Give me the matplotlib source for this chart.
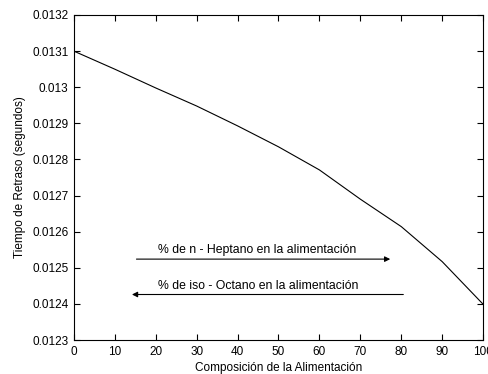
import matplotlib.pyplot as plt

# Composición de la alimentación vs tiempo de retraso
composicion = [0, 10, 20, 30, 40, 50, 60, 70, 80, 90, 100]
retraso = [0.01310, 0.013050, 0.012998, 0.012948, 0.012893, 0.012835,
           0.012771, 0.012690, 0.012614, 0.012517, 0.012399]

y_ticks = [0.0123, 0.0124, 0.0125, 0.0126, 0.0127, 0.0128, 0.0129, 0.013, 0.0131, 0.0132]
y_labels = ['0.0123', '0.0124', '0.0125', '0.0126', '0.0127', '0.0128',
            '0.0129', '0.013', '0.0131', '0.0132']
x_ticks = [0, 10, 20, 30, 40, 50, 60, 70, 80, 90, 100]

plt.rcParams['font.family'] = ['Liberation Sans', 'DejaVu Sans']
plt.rcParams['font.size'] = 8.5

fig = plt.figure(figsize=(4.89, 3.74), dpi=100)
ax = fig.add_axes([0.151, 0.0909, 0.837, 0.869])
ax.plot(composicion, retraso, color='black', lw=0.8)

ax.set_xlim(0, 100)
ax.set_ylim(0.0123, 0.0132)
ax.set_xticks(x_ticks)
ax.set_yticks(y_ticks)
ax.set_yticklabels(y_labels)
ax.tick_params(direction='in', top=True, right=True, length=4, width=0.8)
ax.tick_params(axis='x', pad=4.5)
ax.tick_params(axis='y', pad=4)
for s in ax.spines.values():
    s.set_linewidth(0.8)

ax.set_xlabel('Composición de la Alimentación', labelpad=3)
ax.set_ylabel('Tiempo de Retraso (segundos)', labelpad=4.5)

# flechas de composición
ax.annotate('', xy=(77.3, 0.012524), xytext=(15.3, 0.012524),
            arrowprops=dict(arrowstyle='-|>', color='black', lw=0.8,
                            mutation_scale=8, shrinkA=0, shrinkB=0))
ax.text(20.5, 0.012540, '% de n - Heptano en la alimentación', ha='left', va='baseline',
        fontsize=8.8)
ax.annotate('', xy=(14.2, 0.012426), xytext=(80.5, 0.012426),
            arrowprops=dict(arrowstyle='-|>', color='black', lw=0.8,
                            mutation_scale=8, shrinkA=0, shrinkB=0))
ax.text(20.5, 0.012442, '% de iso - Octano en la alimentación', ha='left', va='baseline',
        fontsize=8.8)

fig.savefig('out.png', dpi=100)
